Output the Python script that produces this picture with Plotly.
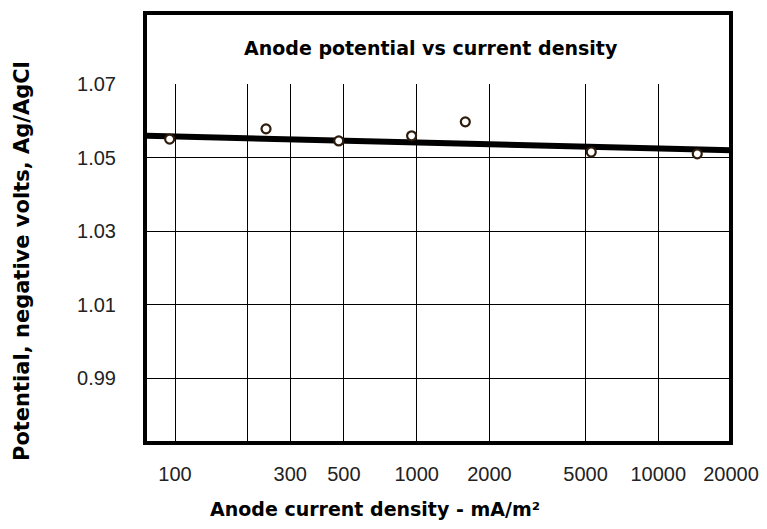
import plotly.graph_objects as go

# Data
density = [95, 238, 476, 953, 1590, 5280, 14500]          # mA/m2
potential = [1.0550, 1.0578, 1.0545, 1.0559, 1.0597, 1.0515, 1.0510]  # -V Ag/AgCl
trend_x = [76, 20000]
trend_y = [1.0559, 1.0520]

x_tickvals = [100, 200, 300, 500, 1000, 2000, 5000, 10000, 20000]
x_ticktext = ["100", "", "300", "500", "1000", "2000", "5000", "10000", "20000"]
y_tickvals = [0.99, 1.01, 1.03, 1.05, 1.07]
y_ticktext = ["0.99", "1.01", "1.03", "1.05", "1.07"]

title_text = "Anode potential vs current density"
x_title = "Anode current density - mA/m²"
y_title = "Potential, negative volts, Ag/AgCl"

# page is drawn with the default 8px body margin, so the figure is offset by 8px
OFF = 8
W, H = 767 - 2 * OFF, 529 - 2 * OFF
L, R, T, B = 139, 28, 76, 79
pw, ph = W - L - R, H - T - B

def px(x):
    return (x - OFF - L) / pw

def py(y):
    return (H - B - (y - OFF)) / ph

fig = go.Figure()
fig.add_trace(go.Scatter(x=trend_x, y=trend_y, mode="lines",
                         line=dict(color="black", width=6), showlegend=False,
                         hoverinfo="skip"))
fig.add_trace(go.Scatter(x=density, y=potential, mode="markers",
                         marker=dict(symbol="circle", size=9, color="white",
                                     line=dict(color="#2e1c0c", width=2.2)),
                         showlegend=False))

bold = "DejaVu Sans"
fig.update_layout(
    width=W, height=H,
    margin=dict(l=L, r=R, t=T, b=B, autoexpand=False),
    paper_bgcolor="white", plot_bgcolor="white",
    showlegend=False,
    xaxis=dict(type="log", range=[1.884, 4.30103], automargin=False,
               tickmode="array", tickvals=x_tickvals, ticktext=x_ticktext,
               showgrid=True, gridcolor="black", gridwidth=1,
               ticks="", showline=False, zeroline=False,
               ticklabelstandoff=18,
               tickfont=dict(family="Liberation Sans", size=20, color="#222")),
    yaxis=dict(range=[0.9726, 1.07], automargin=False,
               tickmode="array", tickvals=y_tickvals, ticktext=y_ticktext,
               showgrid=True, gridcolor="black", gridwidth=1,
               ticks="", showline=False, zeroline=False,
               ticklabelstandoff=30,
               tickfont=dict(family="Liberation Sans", size=20, color="#222")),
    shapes=[dict(type="rect", xref="paper", yref="paper",
                 x0=px(145), x1=px(731), y0=py(443), y1=py(13),
                 line=dict(color="black", width=4), fillcolor="rgba(0,0,0,0)")],
    annotations=[
        dict(text=f"<b>{title_text}</b>", xref="paper", yref="paper",
             x=px(431), y=py(48), xanchor="center", yanchor="middle",
             showarrow=False, font=dict(family=bold, size=19, color="black")),
        dict(text=f"<b>{x_title}</b>", xref="paper", yref="paper",
             x=px(375), y=py(509), xanchor="center", yanchor="middle",
             showarrow=False, font=dict(family=bold, size=19, color="black")),
        dict(text=f"<b>{y_title}</b>", xref="paper", yref="paper",
             x=px(22), y=py(261), xanchor="center", yanchor="middle",
             textangle=-90, showarrow=False,
             font=dict(family=bold, size=21, color="black")),
    ],
)

fig.write_html("out.html")
